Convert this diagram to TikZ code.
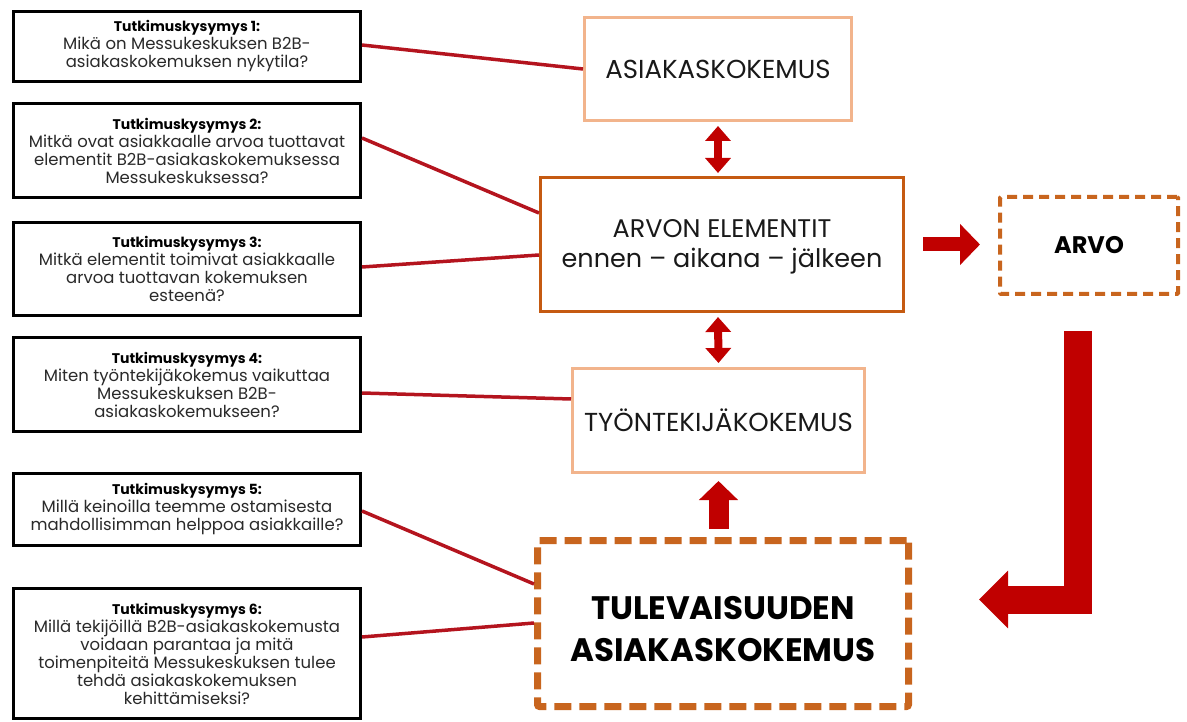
\documentclass[tikz,border=0pt]{standalone}
\usepackage{fontspec}
\setmainfont{Poppins}
\usetikzlibrary{arrows.meta,calc}
\definecolor{peach}{HTML}{F2B48C}
\definecolor{rust}{HTML}{C55A11}
\definecolor{dashrust}{HTML}{C8651E}
\definecolor{linkred}{HTML}{B4141E}
\definecolor{arrowred}{HTML}{C00000}
\definecolor{txt}{HTML}{2A2A2A}
\newcommand{\qhead}[1]{{\fontsize{14}{18}\selectfont\bfseries\color{black}#1}}
\begin{document}
\begin{tikzpicture}[x=1pt,y=-1pt,
  qbox/.style={draw=black, line width=3pt, fill=white, align=center, text=txt,
    font=\fontsize{16.5}{18}\selectfont, inner sep=0pt, minimum width=347pt},
  softbox/.style={draw=peach, line width=3pt, align=center, text=black!90,
    font=\fontsize{26}{28}\selectfont, inner sep=0pt},
  mainbox/.style={draw=rust, line width=3pt, inner sep=0pt},
  link/.style={draw=linkred, line width=3.5pt},
  blockarrow/.style={draw=arrowred, line join=miter}
]
\useasboundingbox (0,0) rectangle (1187,722);

% research questions
\node[qbox, minimum height=70pt] (q1) at (187,46.5)
  {\qhead{Tutkimuskysymys 1:}\\Mikä on Messukeskuksen B2B-\\asiakaskokemuksen nykytila?};
\node[qbox, minimum height=94pt] (q2) at (187,150.5)
  {\qhead{Tutkimuskysymys 2:}\\Mitkä ovat asiakkaalle arvoa tuottavat\\elementit B2B-asiakaskokemuksessa\\Messukeskuksessa?};
\node[qbox, minimum height=93pt] (q3) at (187,269)
  {\qhead{Tutkimuskysymys 3:}\\Mitkä elementit toimivat asiakkaalle\\arvoa tuottavan kokemuksen\\esteenä?};
\node[qbox, minimum height=94pt] (q4) at (187,384.5)
  {\qhead{Tutkimuskysymys 4:}\\Miten työntekijäkokemus vaikuttaa\\Messukeskuksen B2B-\\asiakaskokemukseen?};
\node[qbox, minimum height=72pt] (q5) at (187,509.5)
  {\qhead{Tutkimuskysymys 5:}\\Millä keinoilla teemme ostamisesta\\mahdollisimman helppoa asiakkaille?};
\node[qbox, minimum height=130pt] (q6) at (187,653.5)
  {\qhead{Tutkimuskysymys 6:}\\Millä tekijöillä B2B-asiakaskokemusta\\voidaan parantaa ja mitä\\toimenpiteitä Messukeskuksen tulee\\tehdä asiakaskokemuksen\\kehittämiseksi?};

% central chain
\node[softbox, minimum width=267pt, minimum height=103pt] (ak) at (718,69) {ASIAKASKOKEMUS};
\node[mainbox, minimum width=363pt, minimum height=134pt] (ae) at (722,244.5) {};
\node[align=center, text=black!90, font=\fontsize{25.5}{30}\selectfont, inner sep=0pt]
  (aetext) at ([yshift=-2pt]ae.center) {ARVON ELEMENTIT\\ennen – aikana – jälkeen};
\node[softbox, minimum width=292pt, minimum height=104pt] (tk) at (718.5,420.5) {TYÖNTEKIJÄKOKEMUS};
\node[draw=dashrust, line width=7pt, dash pattern=on 17pt off 8pt, rounded corners=2pt,
  minimum width=371pt, minimum height=166pt, inner sep=0pt] (tu) at (723,623.5) {};
\node[align=center, font=\fontsize{32.5}{42}\selectfont\bfseries, text=black, inner sep=0pt]
  (tutext) at ([yshift=-6pt]tu.center) {TULEVAISUUDEN\\ASIAKASKOKEMUS};
\node[draw=dashrust, line width=4pt, dash pattern=on 10pt off 6pt, rounded corners=1pt,
  minimum width=178pt, minimum height=97pt, inner sep=0pt,
  font=\fontsize{24}{26}\selectfont\bfseries, text=black] (arvo) at (1089,245.5) {ARVO};

% question links
\draw[link] ([yshift=1.5pt]q1.east) -- (ak.west);
\draw[link] ([yshift=12.5pt]q2.east) -- ([yshift=31.5pt]ae.west);
\draw[link] ([yshift=2pt]q3.east) -- ([yshift=-10.5pt]ae.west);
\draw[link] ([yshift=-8.5pt]q4.east) -- ([yshift=21.5pt]tk.west);
\draw[link] ([yshift=-1.5pt]q5.east) -- ([yshift=39.5pt]tu.west);
\draw[link] ([yshift=16.5pt]q6.east) -- ([yshift=0.5pt]tu.west);

% block arrows
\draw[blockarrow, line width=8pt,
  {Triangle[width=25pt,length=15pt]}-{Triangle[width=25pt,length=15pt]}]
  ([yshift=-4pt]ak.south) -- ([yshift=3pt]ak.south |- ae.north);
\draw[blockarrow, line width=8pt,
  {Triangle[width=25pt,length=15pt]}-{Triangle[width=25pt,length=15pt]}]
  ([yshift=-4pt]ak.south |- ae.south) -- ([yshift=4pt]tk.south |- tk.north);
\draw[blockarrow, line width=20pt, -{Triangle[width=38pt,length=19pt]}]
  ([yshift=8pt]tk.south |- tu.north) -- ([yshift=-7pt]tk.south);
\draw[blockarrow, line width=14pt, -{Triangle[width=40pt,length=20pt]}]
  ([xshift=18pt]ae.east) -- ([xshift=-18pt]arvo.west |- ae.east);
\coordinate (lstart) at (1077.5,331);
\coordinate (lend) at (979,599.5);
\draw[blockarrow, line width=28pt, -{Triangle[width=56pt,length=29pt]}]
  (lstart) |- (lend);
\end{tikzpicture}
\end{document}
